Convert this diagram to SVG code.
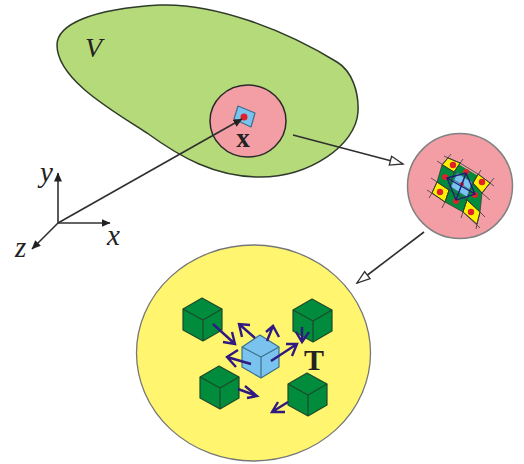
<svg xmlns="http://www.w3.org/2000/svg" width="524" height="464" viewBox="0 0 524 464">
<style>
.l{fill:none;stroke:#2f2f2f;stroke-width:1.6}
.g{fill:#008c3c;stroke:#1c4a2c;stroke-width:1.2;stroke-linejoin:round}
.b{fill:#79c3ee;stroke:#3b6f8c;stroke-width:1.2;stroke-linejoin:round}
.e{fill:none}
.a{fill:none;stroke:#2e1a80;stroke-width:2.4}
.m{fill:none;stroke:#1f1a78;stroke-width:1.3}
.y{fill:#fff200;stroke:#222;stroke-width:.8}
.r{fill:#e1202a}
.t{font-family:"Liberation Serif",serif;fill:#222}
</style>
<defs>
<marker id="ah" markerWidth="10" markerHeight="10" refX="8.500" refY="4" orient="auto" markerUnits="userSpaceOnUse"><path d="M0 0L9 4L0 8z" fill="#222"/></marker>
<marker id="ao" markerWidth="16" markerHeight="12" refX="14" refY="5.500" orient="auto" markerUnits="userSpaceOnUse"><path d="M1 1L14 5.500L1 10z" fill="#fff" stroke="#2f2f2f" stroke-width="1.3"/></marker>
<g id="cg"><path class="g" d="M-1 -22L19 -11V10L0 21L-20 10V-11z"/><path class="g e" d="M-20 -11L0 0L19 -11M0 0V21"/></g>
</defs>
<g id="region-V"><path d="M57 45C57 25 90 9 160 5C215 3 285 30 337 62C352 71 359 92 358 112C356 145 310 177 260 177C215 177 180 157 147 133C115 112 57 80 57 45z" fill="#b5da79" stroke="#2f3a2a" stroke-width="1.500"/><text class="t" x="85" y="57" font-size="28" font-style="italic">V</text></g>
<g id="point-x"><ellipse cx="248" cy="121" rx="38" ry="36" fill="#f39ea5" stroke="#2a2a2a" stroke-width="1.500"/><path class="b" d="M238 106L255 113L251 127L234 119z"/><circle class="r" cx="244" cy="117" r="3.500"/><text class="t" x="243" y="147" font-size="27" font-weight="bold" text-anchor="middle">x</text></g>
<g id="cell"><circle cx="460" cy="186" r="52.500" fill="#f39ea5" stroke="#808080" stroke-width="1.500"/>
<path d="M448 158L490 183L482 193L480 212L477 224L463 212L445 202L432 193L437 182L442 165z" fill="#008c3c"/>
<path class="y" d="M448 158L460 163L454 172L442 165z"/><path class="y" d="M478 174L490 183L482 193L473 183z"/><path class="y" d="M437 182L449 190L445 202L432 193z"/><path class="y" d="M467 200L480 212L477 224L463 212z"/>
<path fill="none" stroke="#3a3a3a" stroke-width=".8" d="M444 156L460 163L478 174L494 186M437 161L454 172L473 183L482 193L490 200M431 178L449 190L467 200L480 212L485 217M427 190L445 202L463 212L480 228M451 154L442 165L437 182L432 193L429 198M463 159L454 172L449 190L445 202L442 208M481 170L473 183L467 200L463 212L461 218M494 178L482 193L480 212L477 224L476 229"/>
<path d="M457 173L472 182L467 197L451 187z" fill="#79c3ee" stroke="#3b6f8c" stroke-width=".6"/><path d="M454 180L470 190M465 177L459 192" stroke="#2e6a7a" fill="none" stroke-width=".9"/>
<g class="r"><circle cx="453" cy="165" r="3.200"/><circle cx="482" cy="182" r="3.200"/><circle cx="440" cy="192" r="3.200"/><circle cx="471" cy="212" r="3.200"/><circle cx="445" cy="177" r="3"/><circle cx="466" cy="172" r="3"/><circle cx="475" cy="195" r="3"/><circle cx="456" cy="201" r="3"/><circle cx="462" cy="184" r="2"/></g>
<path class="m" d="M447 178L466 173L475 194L456 200zM447 178L475 194M466 173L456 200"/></g>
<g id="big-T"><ellipse cx="253.500" cy="353" rx="117" ry="108" fill="#fff56e" stroke="#777" stroke-width="1.300"/><text class="t" x="304" y="370" font-size="30" font-weight="bold">T</text></g>
<g id="cube-tl"><use href="#cg" x="203" y="320"/></g>
<g id="cube-tr"><use href="#cg" x="313" y="321"/></g>
<g id="cube-bl"><use href="#cg" x="220" y="388"/></g>
<g id="cube-br"><use href="#cg" x="308" y="395"/></g>
<g id="cube-center"><path class="b" d="M260 335L279 347V367L261 378L242 367V347z"/><path class="b e" d="M242 347L261 357L279 347M261 357V378"/></g>
<g id="connectors">
<path class="l" d="M58 223V173" marker-end="url(#ah)"/><path class="l" d="M58 223H110" marker-end="url(#ah)"/><path class="l" d="M58 223L32 249" marker-end="url(#ah)"/>
<path class="l" d="M58 223L242 119" marker-end="url(#ah)"/>
<path class="l" d="M293 135L403 164" marker-end="url(#ao)"/><path class="l" d="M424 232L357 283" marker-end="url(#ao)"/>
<g class="a"><path d="M213 324L235 344M223 342L235 344L232 332"/><path d="M255 338L239 324M250 325L239 324L242 337"/><path d="M267 341L273 326M266 332L273 326L279 337"/><path d="M271 361L297 344M286 344L297 344L292 356"/><path d="M251 364L227 357M238 350L227 357L236 367"/><path d="M302 327V342M296 332L302 342L309 332"/><path d="M238 389L257 396M245 386L257 396L247 398"/><path d="M288 402L272 412M278 402L272 412L285 412"/></g>
</g>
<g id="axis-labels"><text class="t" x="40" y="182" font-size="29" font-style="italic">y</text><text class="t" x="107" y="245" font-size="29" font-style="italic">x</text><text class="t" x="15" y="257" font-size="29" font-style="italic">z</text></g>
</svg>
